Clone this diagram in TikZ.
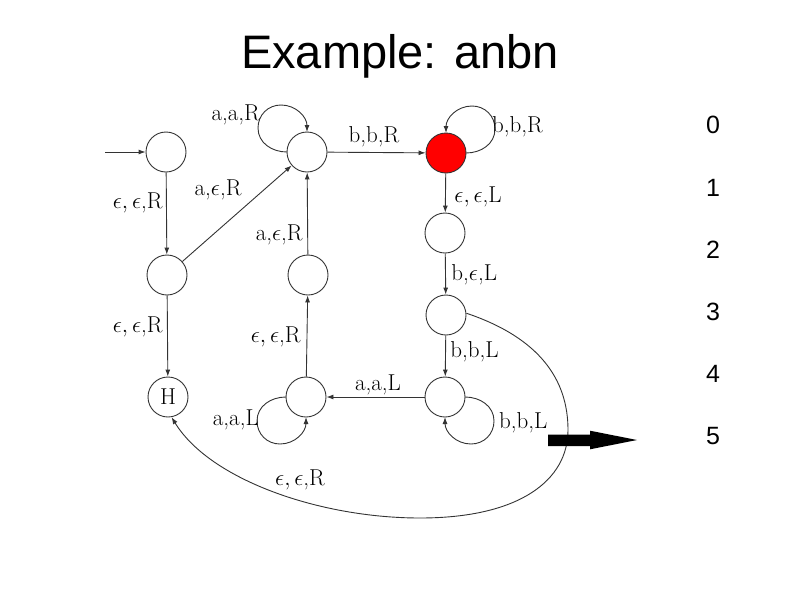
\documentclass[tikz,border=0pt]{standalone}
\usepackage{fix-cm}
\usepackage{fontspec}
\newfontfamily\arialfont{Liberation Sans}
\usetikzlibrary{arrows.meta}
\newcommand\selfloop[3]{% node, xscale, yscale
  \draw[tr,shift={(#1.center)},xscale=#2,yscale=#3]
    (-20,0) .. controls (-35,0) and (-49,9) .. (-49,24)
    .. controls (-49,37) and (-39,47) .. (-26,47)
    .. controls (-11,47) and (0,35) .. (0,20);}
\begin{document}
\begin{tikzpicture}[x=1pt,y=1pt,
  st/.style={circle,draw=black!80,line width=0.9pt,minimum size=40pt,inner sep=0pt,font=\fontsize{23}{26}\selectfont},
  tr/.style={draw=black!80,line width=0.9pt,-{Latex[length=7pt,width=5pt]}},
  lbl/.style={inner sep=0pt,font=\fontsize{23}{26}\selectfont},
  num/.style={inner sep=0pt,font=\arialfont\fontsize{25}{28}\selectfont}]
\useasboundingbox (0,0) rectangle (800,-600);
% title
\node[font=\arialfont\fontsize{47}{50}\selectfont,anchor=base,inner sep=0pt] (title) at (400,-68) {Example: anbn};
% numbers
\foreach \n/\y in {0/125,1/188,2/250,3/312,4/374,5/436}
  \node[num] (n\n) at (713,-\y) {\n};
% states
\node[st] (S0) at (166,-152) {};
\node[st] (S1) at (307,-152) {};
\node[st,fill=red] (S2) at (446,-153) {};
\node[st] (L1) at (167,-275) {};
\node[st] (M1) at (308,-275) {};
\node[st] (R1) at (445,-233) {};
\node[st] (H) at (168,-397) {H};
\node[st] (M2) at (306,-397) {};
\node[st] (R2) at (446,-315) {};
\node[st] (R3) at (445,-397) {};
\coordinate (start) at (105,-152);
% transitions
\draw[tr] (start) -- (S0);
\draw[tr] (S0) -- (L1) node[lbl,anchor=east] at (163,-203) {$\epsilon,\epsilon$,R};
\draw[tr] (L1) -- (H) node[lbl,anchor=east] at (163,-327) {$\epsilon,\epsilon$,R};
\draw[tr] (L1) -- (S1) node[lbl] at (218,-190) {a,$\epsilon$,R};
\selfloop{S1}{1}{1}
\node[lbl,anchor=east] (l1) at (260,-115) {a,a,R};
\draw[tr] (S1) -- (S2) node[lbl] at (374,-137) {b,b,R};
\draw[tr] (M1) -- (S1) node[lbl,anchor=east] at (303,-235) {a,$\epsilon$,R};
\draw[tr] (M2) -- (M1) node[lbl,anchor=east] at (301,-337) {$\epsilon,\epsilon$,R};
\selfloop{M2}{1}{-1}
\node[lbl,anchor=east] (l2) at (259,-420) {a,a,L};
\selfloop{S2}{-1}{1}
\node[lbl,anchor=west] (l3) at (492,-127) {b,b,R};
\draw[tr] (S2) -- (R1) node[lbl,anchor=west] at (454,-197) {$\epsilon,\epsilon$,L};
\draw[tr] (R1) -- (R2) node[lbl,anchor=west] at (451,-275) {b,$\epsilon$,L};
\draw[tr] (R2) -- (R3) node[lbl,anchor=west] at (450,-352) {b,b,L};
\draw[tr] (R3) -- (M2) node[lbl] at (378,-385) {a,a,L};
\selfloop{R3}{-1}{-1}
\node[lbl,anchor=west] (l4) at (499,-423) {b,b,L};
\draw[tr] (R2.5) .. controls (540,-338) and (568,-380) .. (568,-430)
  .. controls (568,-480) and (520,-518) .. (420,-518)
  .. controls (320,-518) and (210,-480) .. (H.-80)
  node[lbl] at (300,-480) {$\epsilon,\epsilon$,R};
% thick arrow
\fill[black] (548,-434.5) -- (590,-434.5) -- (590,-430.7) -- (637,-440) -- (590,-449.3) -- (590,-446) -- (548,-446) -- cycle;
\end{tikzpicture}
\end{document}
